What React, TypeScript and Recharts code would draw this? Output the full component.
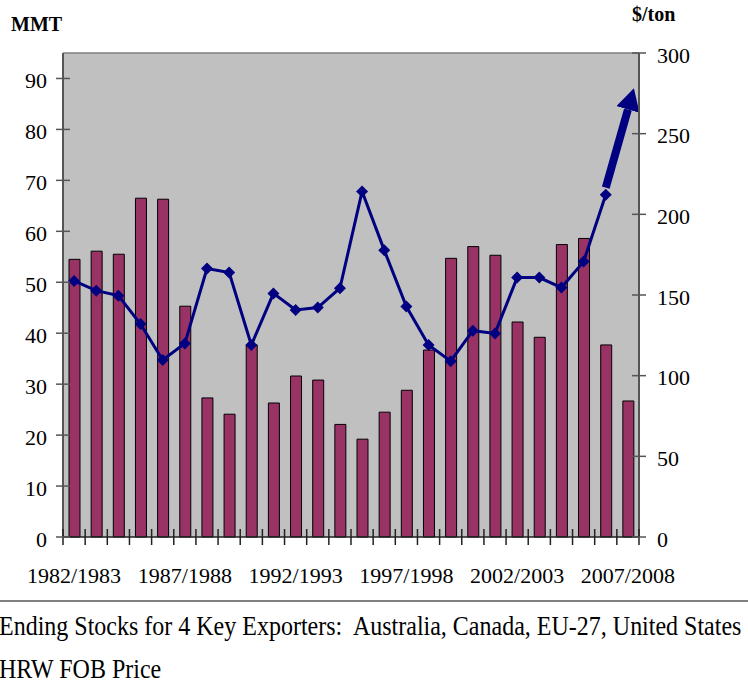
import React from 'react'
import { ComposedChart, Bar, Line, XAxis, YAxis, CartesianGrid, ReferenceLine } from 'recharts'

const seasons = [
  '1982/1983', '1983/1984', '1984/1985', '1985/1986', '1986/1987',
  '1987/1988', '1988/1989', '1989/1990', '1990/1991', '1991/1992',
  '1992/1993', '1993/1994', '1994/1995', '1995/1996', '1996/1997',
  '1997/1998', '1998/1999', '1999/2000', '2000/2001', '2001/2002',
  '2002/2003', '2003/2004', '2004/2005', '2005/2006', '2006/2007',
  '2007/2008',
]

// ending stocks, MMT (left axis)
const stocks = [
  54.5, 56.1, 55.5, 66.5, 66.3, 45.3, 27.3, 24.1, 37.7, 26.3,
  31.6, 30.8, 22.1, 19.2, 24.5, 28.8, 36.7, 54.7, 57.0, 55.3,
  42.2, 39.2, 57.4, 58.6, 37.7, 26.7,
]

// HRW FOB price, $/ton (right axis) - no point for the last season
const price = [
  158.7, 152.7, 149.6, 132, 109.7, 120, 166.4, 163.9, 119, 151,
  140.7, 142.2, 154.2, 214.2, 177.8, 142.8, 119, 109, 127.9, 126.2,
  160.8, 160.8, 154.6, 170.7, 212.1, null,
]

// the up arrow drawn from 2006/2007 into 2007/2008
const trend = [
  null, null, null, null, null, null, null, null, null, null,
  null, null, null, null, null, null, null, null, null, null,
  null, null, null, null, 216.5, 265,
]

const leftTicks = [0, 10, 20, 30, 40, 50, 60, 70, 80, 90]
const rightTicks = [0, 50, 100, 150, 200, 250, 300]

const stocksName = 'Ending Stocks for 4 Key Exporters:  Australia, Canada, EU-27, United States'
const priceName = 'HRW FOB Price'

const data = seasons.map((season, i) => ({
  season,
  stocks: stocks[i],
  price: price[i],
  trend: trend[i],
}))

const FONT = "'Liberation Serif', 'Times New Roman', serif"
const AXIS = '#555'
const NAVY = '#000080'

const CHART_W = 748
const CHART_H = 600
const LEFT_W = 63
const RIGHT_W = 109
const BAND = (CHART_W - LEFT_W - RIGHT_W) / seasons.length

const LeftTick = ({ x, y, payload }: any) => (
  <g>
    <line x1={x - 7} x2={x + 7} y1={y} y2={y} stroke={AXIS} strokeWidth={1.5} />
    <text x={x - 16} y={y + 9.5} textAnchor="end" fontSize={22} fontFamily={FONT} fill="#000">
      {payload.value}
    </text>
  </g>
)

const RightTick = ({ x, y, payload }: any) => (
  <g>
    <line x1={x - 7} x2={x + 7} y1={y} y2={y} stroke={AXIS} strokeWidth={1.5} />
    <text x={x + 18} y={y + 9.5} textAnchor="start" fontSize={22} fontFamily={FONT} fill="#000">
      {payload.value}
    </text>
  </g>
)

const SeasonTick = ({ x, y, payload, index }: any) => (
  <g>
    <line x1={x - BAND / 2} x2={x - BAND / 2} y1={y - 8} y2={y + 8} stroke="#222" strokeWidth={1.5} />
    {index === seasons.length - 1 && (
      <line x1={x + BAND / 2} x2={x + BAND / 2} y1={y - 8} y2={y + 8} stroke="#222" strokeWidth={1.5} />
    )}
    {index % 5 === 0 && (
      <text x={x} y={y + 46} textAnchor="middle" fontSize={22} fontFamily={FONT} fill="#000">
        {payload.value}
      </text>
    )}
  </g>
)

const Diamond = (props: any) => {
  const { cx, cy, index } = props
  if (cx == null || cy == null) return <g key={`d-${index}`} />
  return (
    <path
      key={`d-${index}`}
      d={`M${cx},${cy - 6} L${cx + 6},${cy} L${cx},${cy + 6} L${cx - 6},${cy} Z`}
      fill={NAVY}
    />
  )
}

export default function App() {
  return (
    <div
      style={{
        position: 'absolute',
        left: 0,
        top: 0,
        width: CHART_W,
        height: 689,
        overflow: 'hidden',
        background: '#fff',
        fontFamily: FONT,
      }}
    >
      <svg width={0} height={0} style={{ position: 'absolute' }}>
        <defs>
          <marker
            id="trendHead"
            markerUnits="userSpaceOnUse"
            markerWidth={26}
            markerHeight={26}
            refX={0}
            refY={12}
            orient="auto"
          >
            <path d="M0,0 L22,12 L0,24 Z" fill={NAVY} />
          </marker>
        </defs>
      </svg>

      <div style={{ position: 'absolute', left: 11, top: 14, fontSize: 20, fontWeight: 'bold', lineHeight: 1 }}>
        MMT
      </div>
      <div style={{ position: 'absolute', left: 632, top: 4, fontSize: 20, fontWeight: 'bold', lineHeight: 1 }}>
        $/ton
      </div>

      <ComposedChart
        width={CHART_W}
        height={CHART_H}
        data={data}
        margin={{ top: 53, right: 0, left: 0, bottom: 23 }}
      >
        <CartesianGrid fill="#C0C0C0" horizontal={false} vertical={false} />
        <XAxis
          dataKey="season"
          interval={0}
          height={40}
          tickSize={0}
          tickMargin={0}
          tick={<SeasonTick />}
          axisLine={{ stroke: '#222', strokeWidth: 1.5 }}
          tickLine={false}
        />
        <YAxis
          yAxisId="left"
          width={LEFT_W}
          domain={[0, 95]}
          ticks={leftTicks}
          tickSize={0}
          tickMargin={0}
          tick={<LeftTick />}
          axisLine={{ stroke: AXIS, strokeWidth: 2 }}
          tickLine={false}
        />
        <YAxis
          yAxisId="right"
          orientation="right"
          width={RIGHT_W}
          domain={[0, 300]}
          ticks={rightTicks}
          tickSize={0}
          tickMargin={0}
          tick={<RightTick />}
          axisLine={{ stroke: AXIS, strokeWidth: 2 }}
          tickLine={false}
        />
        <ReferenceLine yAxisId="left" y={95} stroke="#808080" strokeWidth={1.5} />
        <Bar
          yAxisId="left"
          dataKey="stocks"
          name={stocksName}
          barSize={11}
          fill="#993366"
          stroke="#000"
          strokeWidth={1}
          isAnimationActive={false}
        />
        <Line
          yAxisId="right"
          dataKey="price"
          name={priceName}
          stroke={NAVY}
          strokeWidth={3}
          dot={Diamond}
          activeDot={false}
          isAnimationActive={false}
        />
        <Line
          yAxisId="right"
          dataKey="trend"
          legendType="none"
          stroke={NAVY}
          strokeWidth={8}
          dot={false}
          activeDot={false}
          markerEnd="url(#trendHead)"
          isAnimationActive={false}
        />
      </ComposedChart>

      <div style={{ position: 'absolute', left: 0, top: 599.5, width: CHART_W, borderTop: '2px solid #808080' }} />
      <svg width={CHART_W} height={89} style={{ position: 'absolute', left: 0, top: 600 }}>
        <text
          transform="translate(-1, 35) scale(1, 1.15)"
          fontSize={24}
          fontFamily={FONT}
          fill="#000"
          style={{ whiteSpace: 'pre' }}
        >
          {stocksName}
        </text>
        <text transform="translate(-1, 78.3) scale(1, 1.15)" fontSize={24} fontFamily={FONT} fill="#000">
          {priceName}
        </text>
      </svg>
    </div>
  )
}
